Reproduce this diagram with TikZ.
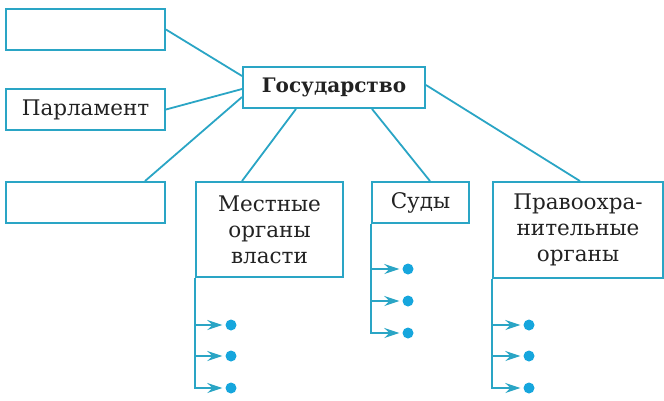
\documentclass[tikz,border=0pt]{standalone}
\usepackage{fontspec}
\setmainfont{DejaVu Serif}
\usetikzlibrary{arrows.meta,calc}
\definecolor{lnc}{HTML}{2AA5C5}
\definecolor{dotc}{HTML}{16A6DD}
\definecolor{txt}{HTML}{222222}
\tikzset{
  box/.style={draw=lnc,line width=1.9pt,rectangle,inner sep=0pt,text=txt,font=\fontsize{21.5}{26}\selectfont,align=center},
  conn/.style={draw=lnc,line width=1.8pt},
  arr/.style={draw=lnc,line width=1.8pt,-{Stealth[length=15pt,width=10pt,inset=5pt]}},
  dotn/.style={circle,fill=dotc,inner sep=0pt,minimum size=11pt}
}
\begin{document}
\begin{tikzpicture}[x=1pt,y=-1pt]
\useasboundingbox (0,0) rectangle (664,400);
\node[box,minimum width=159pt,minimum height=41pt] (b1) at (85.5,29.5) {};
\node[box,minimum width=159pt,minimum height=41pt] (parl) at (85.5,109.5) {Парламент};
\node[box,minimum width=182pt,minimum height=41pt,font=\fontsize{20}{26}\selectfont\bfseries] (gos) at (334,87.5) {Государство};
\node[box,minimum width=159pt,minimum height=41pt] (b3) at (85.5,202.5) {};
\node[box,minimum width=147pt,minimum height=95pt] (mest) at (269.5,229.5) {Местные\\органы\\власти};
\node[box,minimum width=97pt,minimum height=41pt] (sud) at (420.5,202.5) {Суды};
\node[box,minimum width=170pt,minimum height=96pt] (prav) at (578,230) {Правоохра-\\нительные\\органы};

\draw[conn] (b1.east) -- ([yshift=11.5pt]gos.west);
\draw[conn] (parl.east) -- ([yshift=-1.5pt]gos.west);
\draw[conn] ([xshift=59.5pt]b3.north) -- ([yshift=-9.5pt]gos.west);
\draw[conn] ([xshift=-38pt]gos.south) -- ([xshift=-27.5pt]mest.north);
\draw[conn] ([xshift=38pt]gos.south) -- ([xshift=9.5pt]sud.north);
\draw[conn] ([yshift=2.5pt]gos.east) -- ([xshift=2pt]prav.north);

% Местные
\node[dotn] (m1) at (231,325) {};
\node[dotn] (m2) at (231,356) {};
\node[dotn] (m3) at (231,388) {};
\draw[arr] (mest.south west) |- ([xshift=-3pt]m3.west);
\draw[arr] (mest.south west |- m1) -- ([xshift=-3pt]m1.west);
\draw[arr] (mest.south west |- m2) -- ([xshift=-3pt]m2.west);
% Суды
\node[dotn] (s1) at (408,269) {};
\node[dotn] (s2) at (408,301) {};
\node[dotn] (s3) at (408,333) {};
\draw[arr] (sud.south west) |- ([xshift=-3pt]s3.west);
\draw[arr] (sud.south west |- s1) -- ([xshift=-3pt]s1.west);
\draw[arr] (sud.south west |- s2) -- ([xshift=-3pt]s2.west);
% Правоохранительные
\node[dotn] (p1) at (529,325) {};
\node[dotn] (p2) at (529,356) {};
\node[dotn] (p3) at (529,388) {};
\draw[arr] (prav.south west) |- ([xshift=-3pt]p3.west);
\draw[arr] (prav.south west |- p1) -- ([xshift=-3pt]p1.west);
\draw[arr] (prav.south west |- p2) -- ([xshift=-3pt]p2.west);
\end{tikzpicture}
\end{document}
